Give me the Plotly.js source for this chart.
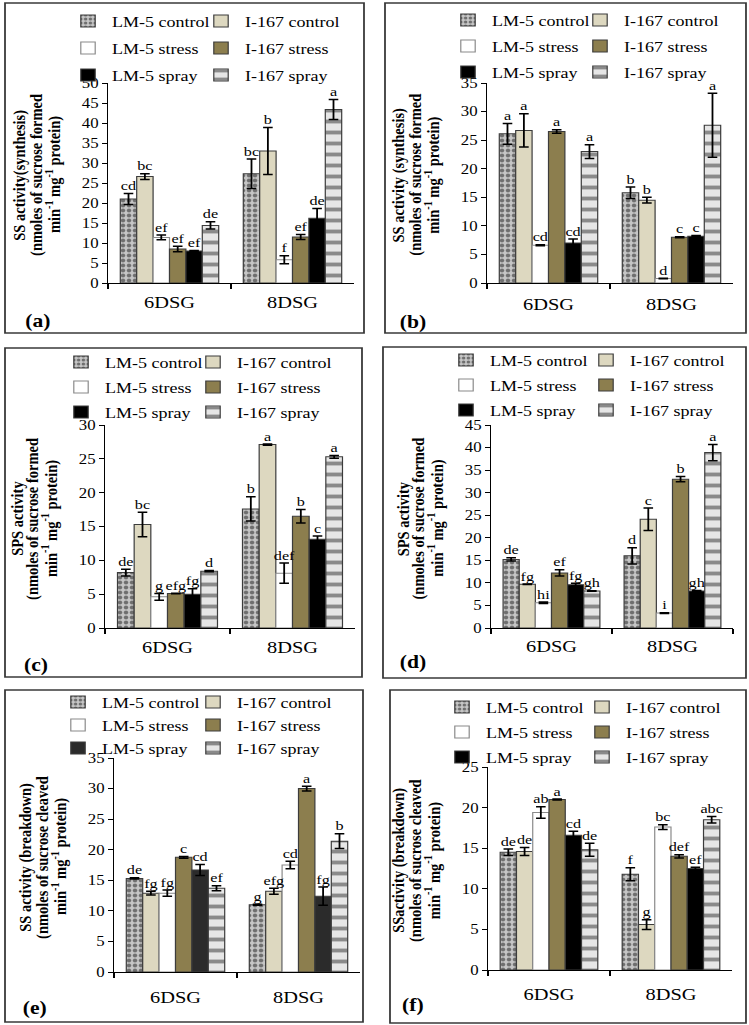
<!DOCTYPE html>
<html><head><meta charset="utf-8">
<script src="https://cdn.plot.ly/plotly-3.0.1.min.js"></script>
<style>
html,body{margin:0;padding:0;overflow:hidden;background:#fff;}
#chart{width:624px;height:1025px;transform:scaleX(1.2003);transform-origin:0 0;}
</style></head><body><div id="chart"></div>
<script>
const categories = ['6DSG', '8DSG'];
const seriesNames = ['LM-5 control', 'I-167 control', 'LM-5 stress', 'I-167 stress', 'LM-5 spray', 'I-167 spray'];

// (a) SS activity (synthesis)
const a_6DSG = [21.0, 26.6, 11.4, 8.5, 8.0, 14.4];
const a_8DSG = [27.3, 33.0, 5.8, 11.5, 16.2, 43.4];
const aErr_6DSG = [1.4, 0.7, 0.6, 0.7, 0.15, 0.9];
const aErr_8DSG = [3.7, 5.9, 1.0, 0.6, 2.4, 2.5];
const aLet_6DSG = ['cd', 'bc', 'ef', 'ef', 'ef', 'de'];
const aLet_8DSG = ['bc', 'b', 'f', 'ef', 'de', 'a'];

// (b) SS activity (synthesis)
const b_6DSG = [26.1, 26.7, 6.6, 26.5, 7.0, 23.0];
const b_8DSG = [15.8, 14.5, 0.8, 8.0, 8.2, 27.6];
const bErr_6DSG = [1.8, 2.9, 0.1, 0.3, 0.7, 1.2];
const bErr_8DSG = [1.0, 0.5, 0.05, 0.1, 0.1, 5.6];
const bLet_6DSG = ['a', 'a', 'cd', 'a', 'cd', 'a'];
const bLet_8DSG = ['b', 'b', 'd', 'c', 'c', 'a'];

// (c) SPS activity
const c_6DSG = [8.2, 15.3, 4.6, 5.1, 5.0, 8.4];
const c_8DSG = [17.6, 27.1, 8.1, 16.5, 13.1, 25.3];
const cErr_6DSG = [0.5, 1.8, 0.5, 0.05, 0.8, 0.1];
const cErr_8DSG = [1.8, 0.1, 1.5, 1.0, 0.5, 0.2];
const cLet_6DSG = ['de', 'bc', 'g', 'efg', 'fg', 'd'];
const cLet_8DSG = ['b', 'a', 'def', 'b', 'c', 'a'];

// (d) SPS activity
const d_6DSG = [15.2, 9.7, 5.6, 12.2, 9.6, 8.2];
const d_8DSG = [16.0, 24.1, 3.3, 33.0, 8.2, 38.9];
const dErr_6DSG = [0.35, 0.05, 0.15, 0.7, 0.3, 0.05];
const dErr_8DSG = [1.8, 2.5, 0.1, 0.6, 0.1, 1.8];
const dLet_6DSG = ['de', 'fg', 'hi', 'ef', 'fg', 'gh'];
const dLet_8DSG = ['d', 'c', 'i', 'b', 'gh', 'a'];

// (e) SS activity (breakdown)
const e_6DSG = [15.3, 12.9, 12.9, 18.75, 16.7, 13.7];
const e_8DSG = [11.0, 13.2, 17.5, 30.0, 12.4, 21.4];
const eErr_6DSG = [0.1, 0.3, 0.5, 0.15, 0.9, 0.4];
const eErr_8DSG = [0.1, 0.5, 0.6, 0.4, 1.5, 1.2];
const eLet_6DSG = ['de', 'fg', 'fg', 'c', 'cd', 'ef'];
const eLet_8DSG = ['g', 'efg', 'cd', 'a', 'fg', 'b'];

// (f) SS activity (breakdown)
const f_6DSG = [14.5, 14.6, 19.4, 21.0, 16.6, 14.8];
const f_8DSG = [11.8, 5.6, 17.6, 14.0, 12.5, 18.5];
const fErr_6DSG = [0.4, 0.5, 0.7, 0.05, 0.5, 0.8];
const fErr_8DSG = [0.8, 0.6, 0.3, 0.2, 0.15, 0.4];
const fLet_6DSG = ['de', 'de', 'ab', 'a', 'cd', 'de'];
const fLet_8DSG = ['f', 'g', 'bc', 'def', 'ef', 'abc'];

const panelLabels = ['(a)', '(b)', '(c)', '(d)', '(e)', '(f)'];
const yTitles = [
  ['SS activity(synthesis)', '(nmoles of sucrose formed', 'min<sup>-1</sup> mg<sup>-1</sup> protein)'],
  ['SS activity (synthesis)', '(nmoles of sucrose formed', 'min<sup>-1</sup> mg<sup>-1</sup> protein)'],
  ['SPS activity', '(nmoles of sucrose formed', 'min<sup>-1</sup> mg<sup>-1</sup> protein)'],
  ['SPS activity', '(nmoles of sucrose formed', 'min<sup>-1</sup> mg<sup>-1</sup> protein)'],
  ['SS activity (breakdown)', '(nmoles of sucrose cleaved', 'min<sup>-1</sup> mg<sup>-1</sup> protein)'],
  ['SSactivity (breakdown)', '(nmoles of sucrose cleaved', 'min<sup>-1</sup> mg<sup>-1</sup> protein)']
];
const yMax = [50, 35, 30, 45, 35, 25];

const panelData = [
  [a_6DSG, a_8DSG, aErr_6DSG, aErr_8DSG, aLet_6DSG, aLet_8DSG],
  [b_6DSG, b_8DSG, bErr_6DSG, bErr_8DSG, bLet_6DSG, bLet_8DSG],
  [c_6DSG, c_8DSG, cErr_6DSG, cErr_8DSG, cLet_6DSG, cLet_8DSG],
  [d_6DSG, d_8DSG, dErr_6DSG, dErr_8DSG, dLet_6DSG, dLet_8DSG],
  [e_6DSG, e_8DSG, eErr_6DSG, eErr_8DSG, eLet_6DSG, eLet_8DSG],
  [f_6DSG, f_8DSG, fErr_6DSG, fErr_8DSG, fLet_6DSG, fLet_8DSG]
];

// ---- geometry (reference pixel coordinates) ----
const W = 749, H = 1025;
const px = x => x / W;
const py = y => 1 - y / H;
const FONT = 'Liberation Serif, Times New Roman, serif';

const geo = [
  {ax: [108, 354], ay: [83, 283], box: [5, 3, 364, 333], lab: [38, 321], leg: [112, 245, 21, 26], so: 4},
  {ax: [487, 733], ay: [83, 283], box: [385, 3, 746, 333], lab: [413, 322], leg: [492, 624, 20, 25], so: 6},
  {ax: [105, 355], ay: [425, 628], box: [5, 348, 362, 677], lab: [36, 665], leg: [105, 237, 362, 24], so: 4},
  {ax: [491, 733], ay: [425, 628], box: [383, 347, 746, 678], lab: [413, 662], leg: [490, 630, 360, 24], so: 3},
  {ax: [114, 360], ay: [758, 972], box: [5, 690, 363, 1022], lab: [35, 1008], leg: [102, 237, 702, 22], so: 10},
  {ax: [488, 732], ay: [767, 970], box: [390, 690, 746, 1023], lab: [413, 1005], leg: [486, 626, 707, 24], so: 9}
];

function seriesMarker(i, p) {
  const line = {color: '#3c3c3c', width: 1};
  switch (i) {
    case 0: return {color: '#c6c6c6', line, pattern: {shape: '.', fgcolor: '#6f6f6f', bgcolor: '#c6c6c6', size: 5, solidity: 0.45}};
    case 1: return {color: '#ddd8c0', line};
    case 2: return {color: '#ffffff', line: {color: '#8a8a8a', width: 1}};
    case 3: return {color: '#8c7e4e', line};
    case 4: return {color: p === 4 ? '#2b2b2b' : '#000000', line};
    default: return {color: '#e2e2e2', line, pattern: {shape: '-', fgcolor: '#8a8a8a', bgcolor: '#e6e6e6', size: 11, solidity: 0.35}};
  }
}

const traces = [];
const layout = {
  width: 624, height: 1025,
  margin: {l: 0, r: 0, t: 0, b: 0, pad: 0},
  autosize: false,
  paper_bgcolor: '#ffffff', plot_bgcolor: '#ffffff',
  font: {family: FONT, color: '#000000'},
  barmode: 'group', bargap: 0.2, bargroupgap: 0,
  scattermode: 'group', scattergap: 0.2,
  shapes: [], annotations: []
};

panelData.forEach((pd, p) => {
  const [v6, v8, e6, e8, l6, l8] = pd;
  const g = geo[p];
  const n = p === 0 ? '' : String(p + 1);
  const xa = 'x' + n, ya = 'y' + n;

  layout['xaxis' + n] = {
    type: 'category', domain: [px(g.ax[0]), px(g.ax[1])], anchor: ya,
    showline: true, linecolor: '#000', linewidth: 1,
    ticks: 'outside', tickson: 'boundaries', ticklen: 5, tickcolor: '#000', tickwidth: 1,
    ticklabelstandoff: g.so,
    tickfont: {family: FONT, size: 17, color: '#000'},
    showgrid: false, zeroline: false, fixedrange: true
  };
  layout['yaxis' + n] = {
    domain: [py(g.ay[1]), py(g.ay[0])], anchor: xa,
    range: [0, yMax[p]], dtick: 5, tick0: 0,
    showline: true, linecolor: '#000', linewidth: 1,
    ticks: 'outside', ticklen: 4, tickcolor: '#000', tickwidth: 1,
    tickfont: {family: FONT, size: 14, color: '#000'},
    showgrid: false, zeroline: false, fixedrange: true
  };

  // legends: two columns per panel
  [0, 1].forEach(col => {
    const k = 2 * p + col;
    const lname = k === 0 ? 'legend' : 'legend' + (k + 1);
    layout[lname] = {
      x: px(g.leg[col] - 36), xanchor: 'left',
      y: py(g.leg[2] - 16.25), yanchor: 'top',
      orientation: 'v', traceorder: 'grouped',
      tracegroupgap: Math.max(0, g.leg[3] - 21.5),
      indentation: -10,
      font: {family: FONT, size: 15, color: '#000'},
      bgcolor: 'rgba(0,0,0,0)', borderwidth: 0
    };
  });

  seriesNames.forEach((name, i) => {
    const col = i % 2;
    const k = 2 * p + col;
    const lname = k === 0 ? 'legend' : 'legend' + (k + 1);
    traces.push({
      type: 'bar', name, x: categories, y: [v6[i], v8[i]],
      xaxis: xa, yaxis: ya, legend: lname, legendgroup: 'p' + p + 's' + i,
      marker: seriesMarker(i, p),
      error_y: {type: 'data', array: [e6[i], e8[i]], visible: true, color: '#000', thickness: 1.5, width: 4},
      hoverinfo: 'skip'
    });
  });
  seriesNames.forEach((name, i) => {
    traces.push({
      type: 'scatter', mode: 'text', orientation: 'v',
      x: categories, y: [v6[i] + e6[i], v8[i] + e8[i]],
      text: [l6[i], l8[i]], textposition: 'top center',
      textfont: {family: FONT, size: 13.5, color: '#000'},
      xaxis: xa, yaxis: ya, showlegend: false, cliponaxis: false, hoverinfo: 'skip'
    });
  });

  // panel frame
  layout.shapes.push({type: 'rect', xref: 'paper', yref: 'paper',
    x0: px(g.box[0]), x1: px(g.box[2]), y0: py(g.box[3]), y1: py(g.box[1]),
    line: {color: '#3a3a3a', width: 1.5}, fillcolor: 'rgba(0,0,0,0)'});

  // panel label
  layout.annotations.push({xref: 'paper', yref: 'paper', x: px(g.lab[0]), y: py(g.lab[1]),
    xanchor: 'center', yanchor: 'middle', showarrow: false,
    text: '<b>' + panelLabels[p] + '</b>', font: {family: FONT, size: 18, color: '#000'}});

  // y-axis title, three lines
  const cx = g.ax[0] - 72;
  const cy = (g.ay[0] + g.ay[1]) / 2 - 8;
  yTitles[p].forEach((t, j) => {
    layout.annotations.push({xref: 'paper', yref: 'paper', x: px(cx + (j - 1) * 17), y: py(cy),
      xanchor: 'center', yanchor: 'middle', showarrow: false, textangle: -90,
      text: '<b>' + t + '</b>', font: {family: FONT, size: 14.5, color: '#000'}});
  });
});

Plotly.newPlot('chart', traces, layout, {displayModeBar: false, staticPlot: true});
</script></body></html>
